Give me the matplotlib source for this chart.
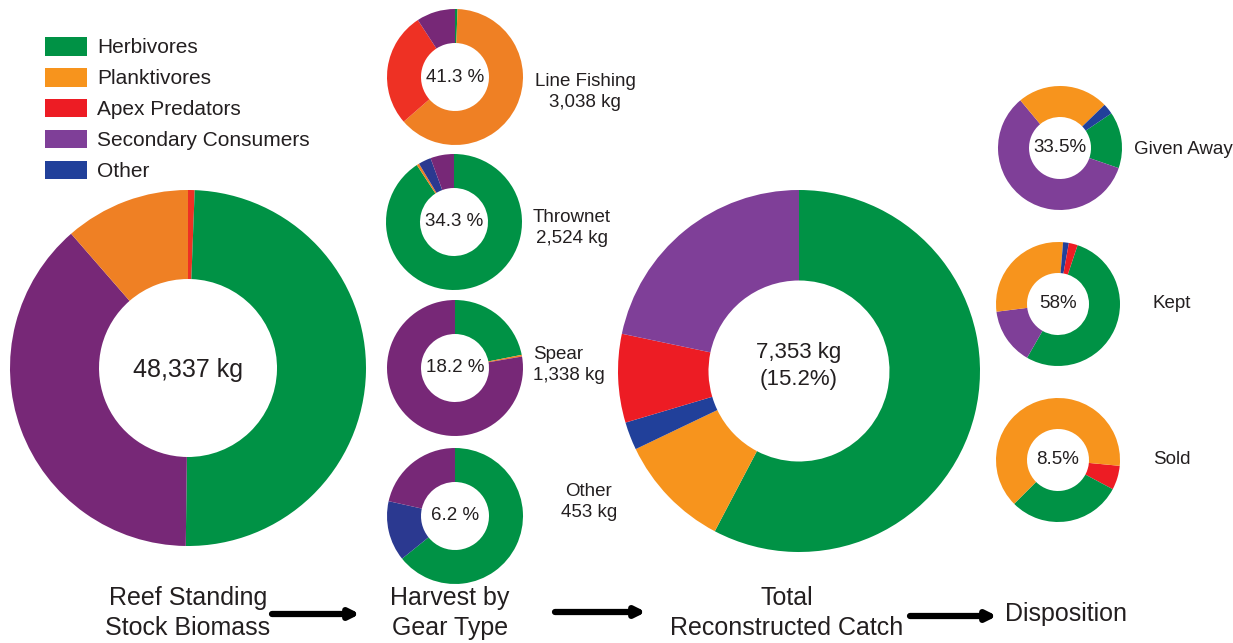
import matplotlib

matplotlib.use("Agg")
import matplotlib.pyplot as plt
from matplotlib.patches import Patch

plt.rcParams["font.family"] = ["Liberation Sans", "DejaVu Sans"]

W, H = 1233, 643
TEXT = "#231f20"

# colours: gear-type panels use the warmer palette, catch/disposition the legend palette
harvest_colors = {
    "Herbivores": "#009245",
    "Planktivores": "#ef8024",
    "Apex Predators": "#ee3124",
    "Secondary Consumers": "#772877",
    "Other": "#2b3990",
}
catch_colors = {
    "Herbivores": "#009245",
    "Planktivores": "#f7941d",
    "Apex Predators": "#ed1c24",
    "Secondary Consumers": "#7f3f98",
    "Other": "#21409a",
}
legend_names = ["Herbivores", "Planktivores", "Apex Predators", "Secondary Consumers", "Other"]

# shares (%) in clockwise drawing order
reef_cats = ["Apex Predators", "Herbivores", "Secondary Consumers", "Planktivores"]
reef_share = [0.6, 49.6, 38.4, 11.4]

line_cats = ["Herbivores", "Planktivores", "Apex Predators", "Secondary Consumers"]
line_share = [0.6, 63.0, 27.2, 9.2]

thrownet_cats = ["Herbivores", "Planktivores", "Other", "Secondary Consumers"]
thrownet_share = [90.8, 0.6, 3.0, 5.6]

spear_cats = ["Herbivores", "Planktivores", "Secondary Consumers"]
spear_share = [21.9, 0.4, 77.7]

othergear_cats = ["Herbivores", "Other", "Secondary Consumers"]
othergear_share = [64.2, 14.3, 21.5]

catch_cats = ["Herbivores", "Planktivores", "Other", "Apex Predators", "Secondary Consumers"]
catch_share = [57.7, 10.2, 2.5, 7.9, 21.7]

given_cats = ["Herbivores", "Secondary Consumers", "Planktivores", "Other"]
given_share = [14.7, 58.7, 23.8, 2.8]

kept_cats = ["Herbivores", "Secondary Consumers", "Planktivores", "Other", "Apex Predators"]
kept_share = [53.2, 14.7, 28.3, 1.5, 2.3]

sold_cats = ["Apex Predators", "Herbivores", "Planktivores"]
sold_share = [6.3, 29.7, 64.0]

gear_labels = ["Line Fishing\n3,038 kg", "Thrownet\n2,524 kg", "Spear\n1,338 kg", "Other\n453 kg"]
gear_pct = ["41.3 %", "34.3 %", "18.2 %", "6.2 %"]
disp_labels = ["Given Away", "Kept", "Sold"]
disp_pct = ["33.5%", "58%", "8.5%"]

fig = plt.figure(figsize=(W / 100, H / 100), dpi=100)
ax = fig.add_axes([0, 0, 1, 1])


def donut(cats, share, palette, cx, cy, r, start=0):
    ax.pie(
        share,
        colors=[palette[c] for c in cats],
        radius=r,
        center=(cx, H - cy),
        startangle=90 - start,
        counterclock=False,
        wedgeprops=dict(width=r * 0.5, linewidth=0),
    )


# big donuts
donut(reef_cats, reef_share, harvest_colors, 188, 368, 178)
ax.text(188, H - 370, "48,337 kg", ha="center", va="center", fontsize=18, color=TEXT)

donut(catch_cats, catch_share, catch_colors, 799, 371, 181)
ax.text(799, H - 366, "7,353 kg\n(15.2%)", ha="center", va="center", fontsize=16,
        linespacing=1.4, color=TEXT)

# gear type
gear = [
    (line_cats, line_share, 455, 77, 585, 92, "center"),
    (thrownet_cats, thrownet_share, 454, 222, 572, 228, "center"),
    (spear_cats, spear_share, 455, 368, 533, 365, "left"),
    (othergear_cats, othergear_share, 455, 516, 589, 502, "center"),
]
for (cats, share, cx, cy, lx, ly, ha), lab, pct in zip(gear, gear_labels, gear_pct):
    donut(cats, share, harvest_colors, cx, cy, 68)
    ax.text(cx, H - cy, pct, ha="center", va="center", fontsize=13.5, color=TEXT)
    ax.text(lx, H - ly, lab, ha=ha, va="center", fontsize=13.5, linespacing=1.3,
            multialignment="left" if ha == "left" else "center", color=TEXT)

# disposition
disp = [
    (given_cats, given_share, 1060, 148, 56, 1183, 149),
    (kept_cats, kept_share, 1058, 304, 18.4, 1172, 304),
    (sold_cats, sold_share, 1058, 460, 95.4, 1172, 459),
]
for (cats, share, cx, cy, st, lx, ly), lab, pct in zip(disp, disp_labels, disp_pct):
    donut(cats, share, catch_colors, cx, cy, 62, start=st)
    ax.text(cx, H - cy, pct, ha="center", va="center", fontsize=13.5, color=TEXT)
    ax.text(lx, H - ly, lab, ha="center", va="center", fontsize=13.5, color=TEXT)

# bottom flow
ax.text(188, H - 613, "Reef Standing\nStock Biomass", ha="center", va="center",
        fontsize=18, linespacing=1.3, color=TEXT)
ax.text(450, H - 613, "Harvest by\nGear Type", ha="center", va="center",
        fontsize=18, linespacing=1.3, color=TEXT)
ax.text(787, H - 613, "Total\nReconstructed Catch", ha="center", va="center",
        fontsize=18, linespacing=1.3, color=TEXT)
ax.text(1066, H - 614, "Disposition", ha="center", va="center", fontsize=18, color=TEXT)

for x0, x1, y in [(272, 360, 614), (555, 646, 612), (910, 997, 616)]:
    ax.annotate("", xy=(x1, H - y), xytext=(x0, H - y),
                arrowprops=dict(arrowstyle="-|>", lw=4.5, color="black",
                                mutation_scale=14, shrinkA=0, shrinkB=0))

ax.legend(
    handles=[Patch(facecolor=catch_colors[n], label=n) for n in legend_names],
    loc="upper left",
    bbox_to_anchor=(45 / W, 1 - 37 / H),
    frameon=False,
    fontsize=15,
    handlelength=2.0,
    handleheight=1.0,
    handletextpad=0.5,
    labelspacing=0.5,
    borderpad=0,
    borderaxespad=0,
    labelcolor=TEXT,
)

ax.set_xlim(0, W)
ax.set_ylim(0, H)
ax.set_aspect("equal")
ax.axis("off")

fig.savefig("out.png", dpi=100, facecolor="white")
